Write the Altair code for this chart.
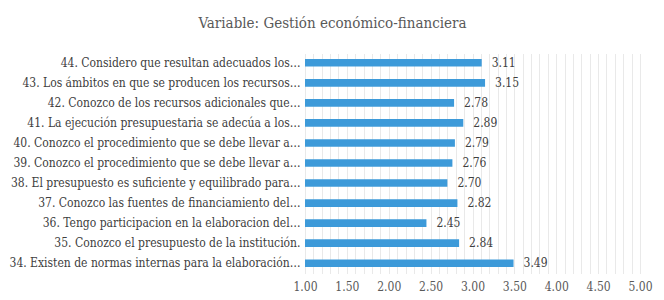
import altair as alt
import pandas as pd

items = [
    "44. Considero que resultan adecuados los…",
    "43. Los ámbitos en que se producen los recursos…",
    "42. Conozco de los recursos adicionales que…",
    "41. La ejecución presupuestaria se adecúa a los…",
    "40. Conozco el procedimiento que se debe llevar a…",
    "39. Conozco el procedimiento que se debe llevar a…",
    "38. El presupuesto es suficiente y equilibrado para…",
    "37. Conozco las fuentes de financiamiento del…",
    "36. Tengo participacion en la elaboracion del…",
    "35. Conozco el presupuesto de la institución.",
    "34. Existen de normas internas para la elaboración…",
]
values = [3.11, 3.15, 2.78, 2.89, 2.79, 2.76, 2.70, 2.82, 2.45, 2.84, 3.49]
grid_values = [round(1 + 0.1 * i, 1) for i in range(41)]

df = pd.DataFrame({"item": items, "value": values, "base": [1.0] * len(items)})

FONT = "'DejaVu Serif Condensed', 'DejaVu Serif', serif"

y_axis = alt.Axis(domain=False, ticks=False, labelFont=FONT, labelFontSize=12,
                  labelColor="#404040", labelPadding=5, labelLimit=310)
x_axis = alt.Axis(values=grid_values, domain=False, ticks=False, labelOverlap=False,
                  labelFlush=False,
                  labelExpr="round(datum.value*10) % 5 == 0 ? format(datum.value, '.2f') : ''",
                  labelFont=FONT, labelFontSize=12, labelColor="#595959", labelPadding=8,
                  grid=True, gridColor="#c8c8c8", gridDash=[1, 1], gridOpacity=0.8)
y_scale = alt.Scale(paddingInner=0.62, paddingOuter=0.3)
x_scale = alt.Scale(domain=[1, 5], nice=False, zero=False)

bars = alt.Chart(df).mark_bar(color="#3D9AD9").encode(
    x=alt.X("base:Q", scale=x_scale, title=None, axis=x_axis),
    x2="value:Q",
    y=alt.Y("item:N", sort=None, title=None, scale=y_scale, axis=y_axis),
)

labels = alt.Chart(df).mark_text(align="left", dx=10, font=FONT, fontSize=12, color="#404040").encode(
    x=alt.X("value:Q", scale=x_scale, title=None, axis=x_axis),
    y=alt.Y("item:N", sort=None, title=None, scale=y_scale, axis=y_axis),
    text=alt.Text("value:Q", format=".2f"),
)

chart = (bars + labels).properties(
    width=335, height=220,
    title=alt.TitleParams("Variable: Gestión económico-financiera", font=FONT, fontSize=15,
                          fontWeight="normal", color="#595959", dx=-140, offset=22),
    autosize=alt.AutoSizeParams(type="none"),
    padding={"left": 297, "top": 45, "right": 16, "bottom": 25},
).configure_view(stroke=None)

chart.save("out.html", embed_options={"renderer": "svg", "actions": False})
